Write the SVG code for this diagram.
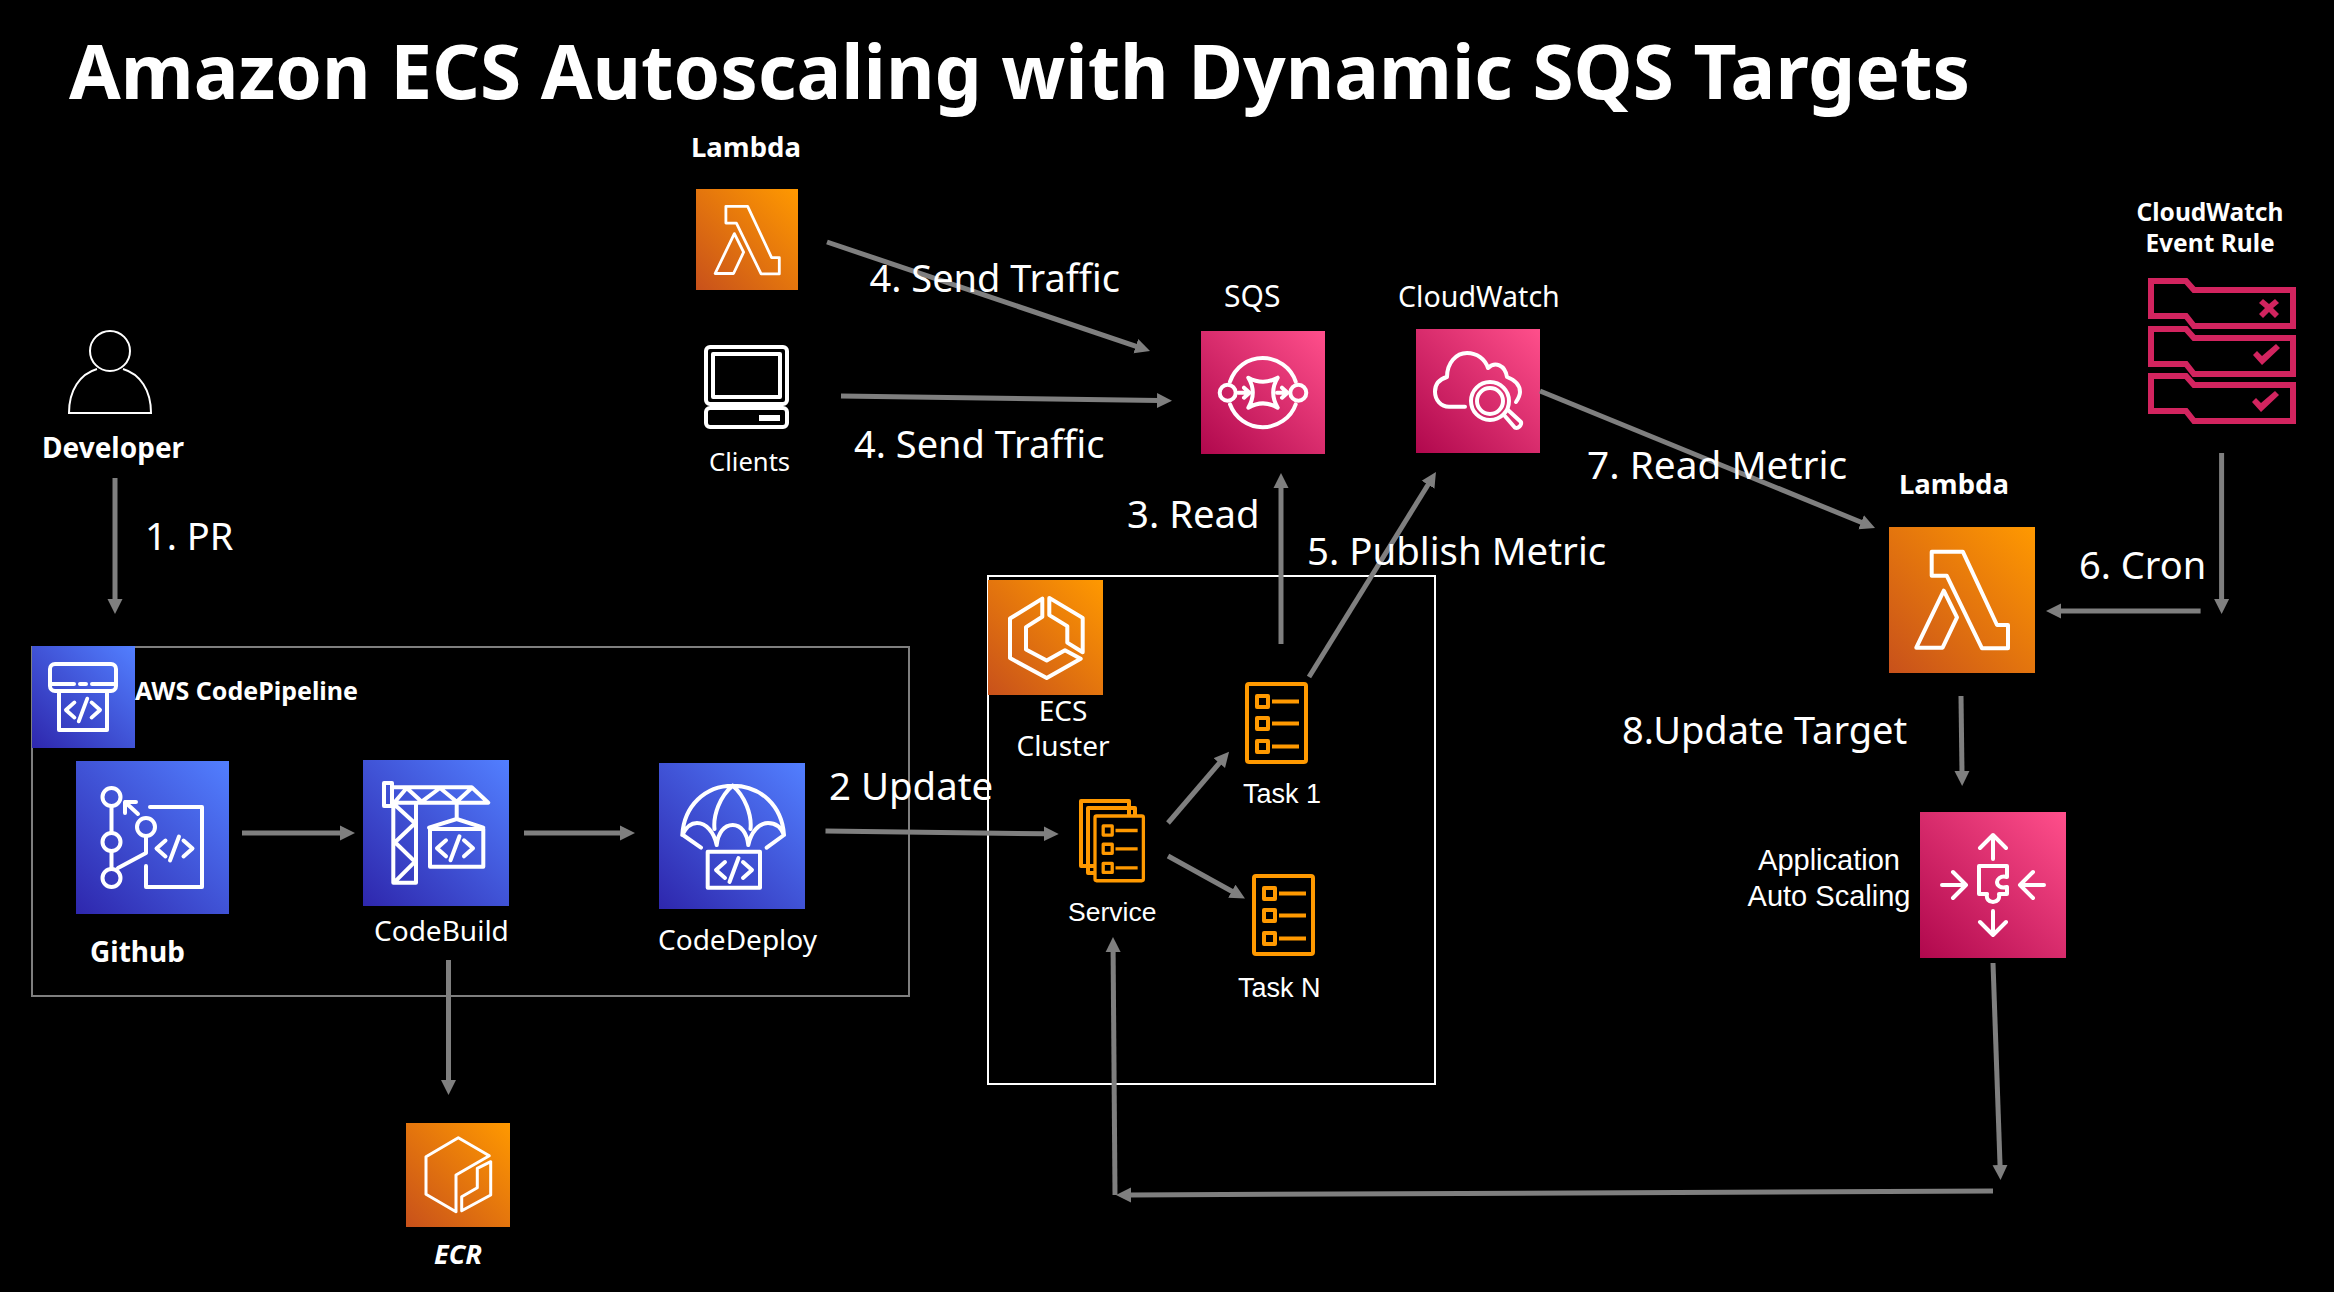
<svg xmlns="http://www.w3.org/2000/svg" xmlns:xlink="http://www.w3.org/1999/xlink" width="2334" height="1292" viewBox="0 0 2334 1292">
<style>
text{fill:#fff;font-family:"Noto Sans","Open Sans",sans-serif}
.b{font-weight:700}
.l{font-size:38px}
.s{font-size:28px}
.a{font-family:"Liberation Sans",Arial,sans-serif;font-size:26.500px}
.c{text-anchor:middle}
.w{fill:none;stroke:#fff;stroke-width:4;stroke-linejoin:round;stroke-linecap:round}
.o{fill:none;stroke:#f90;stroke-width:4;stroke-linejoin:round}
.p{fill:none;stroke:#d2245f;stroke-width:6}
.k{fill:#d2245f}
#connectors line{stroke:#7f7f7f;stroke-width:5;fill:none;marker-end:url(#ah)}
</style>
<defs>
<linearGradient id="gb" x1="0" y1="1" x2="1" y2="0"><stop offset="0" stop-color="#2E27AD"/><stop offset="1" stop-color="#527FFF"/></linearGradient>
<linearGradient id="go" x1="0" y1="1" x2="1" y2="0"><stop offset="0" stop-color="#C8511B"/><stop offset="1" stop-color="#FF9900"/></linearGradient>
<linearGradient id="gp" x1="0" y1="1" x2="1" y2="0"><stop offset="0" stop-color="#B0084D"/><stop offset="1" stop-color="#FF4F8B"/></linearGradient>
<marker id="ah" markerUnits="userSpaceOnUse" markerWidth="16" markerHeight="16" refX="2" refY="8" orient="auto"><path d="M0 0.500L15 8L0 15.500Z" fill="#7f7f7f"/></marker>
<g id="code" class="w"><path d="M-9 -8L-18 0L-9 8M9 -8L18 0L9 8M4.500 -12L-4.500 12"/></g>
<g id="lam" class="w"><path d="M42.700 24.700H73.800L108 98H119V121.300H93L57.700 48.700H42.700ZM54.800 63.700L68 90.300L53.600 120.700H27.300Z"/></g>
<g id="task" class="o"><rect x="0" y="0" width="59" height="78" rx="2"/><rect x="10" y="12" width="11" height="11"/><rect x="10" y="34" width="11" height="11"/><rect x="10" y="57" width="11" height="11"/><path d="M25 17.500H52M25 39.500H52M25 62.500H52"/></g>
<g id="rule" class="p"><path d="M3 3H38L46 12H145V48H46L38 38H3Z"/></g>
</defs>
<rect width="2334" height="1292" fill="#000"/>
<text id="title" class="b" x="69" y="99" font-size="74.800">Amazon ECS Autoscaling with Dynamic SQS Targets</text>
<g id="pipeline-box"><rect x="32" y="647" width="877" height="349" fill="none" stroke="#7f7f7f" stroke-width="2"/></g>
<g id="ecs-box"><rect x="988" y="576" width="447" height="508" fill="none" stroke="#fff" stroke-width="2"/></g>
<g id="developer"><circle cx="110" cy="351" r="20" fill="none" stroke="#fff" stroke-width="2"/><path d="M97 369C80 374 69 390 69 413H151C151 390 140 374 123 369" fill="none" stroke="#fff" stroke-width="2"/><text class="s b" x="42" y="458">Developer</text></g>
<g id="codepipeline"><rect x="32" y="646" width="103" height="102" fill="url(#gb)"/><rect x="50" y="664" width="66" height="27" rx="5" class="w"/><path class="w" d="M50 684H74M80 684H86M92 684H116M59 691V730H107V691"/><use xlink:href="#code" href="#code" transform="translate(83 710) scale(.95)"/><text class="b" x="135" y="700" font-size="25">AWS CodePipeline</text></g>
<g id="github"><rect x="76" y="761" width="153" height="153" fill="url(#gb)"/><g class="w"><circle cx="111.500" cy="797" r="9"/><circle cx="111.500" cy="842" r="9"/><circle cx="111.500" cy="878" r="9"/><circle cx="146" cy="827" r="9"/><path d="M111.500 806V833M111.500 851V869M118 868L146 853V836M138 814L125 802M125 813V802H136M150 807H202V887H146V866"/></g><use xlink:href="#code" href="#code" transform="translate(174.500 848.500)"/><text class="s b" x="90" y="962">Github</text></g>
<g id="codebuild"><rect x="363" y="760" width="146" height="146" fill="url(#gb)"/><path class="w" d="M384 783H392V806H384ZM392 787.300H471.700L488.300 802.700H392M395 801.700L406.700 788L421.700 801.700L440 788L456.700 801.700L471.700 788M393.300 803V882.700H416V803M395 805L415 823.300L395 842.300L415 861.700L395 881.700M456.700 802.700V819M429 827.700L456.700 819L483.300 827.700M430 829H483.300V866.700H430Z"/><use xlink:href="#code" href="#code" transform="translate(455 848.300)"/><text class="s" x="374" y="941">CodeBuild</text></g>
<g id="codedeploy"><rect x="659" y="763" width="146" height="146" fill="url(#gb)"/><path class="w" d="M682.300 835C684 806 705 785.700 732.700 785.700C761 785.700 782 806 784 835M682.300 835C686 827 691 823 697 823C706 823 714 832 716.700 845M716.700 845C718 833 724 825 732.700 825C741 825 747 833 748.300 845M748.300 845C751 832 759 823 768 823C775 823 781 827 784 835M732.700 785.700C720 796 713 815 714.500 829M732.700 785.700C745 796 752 815 750.500 829M683 835L701 847.700M784 835L766.700 847.700M707.700 851.700H760V887.700H707.700Z"/><use xlink:href="#code" href="#code" transform="translate(734 870)"/><text class="s" x="658" y="950">CodeDeploy</text></g>
<g id="ecr"><rect x="406" y="1123" width="104" height="104" fill="url(#go)"/><path class="w" transform="translate(406 1123)" style="stroke-width:3" d="M52.300 14.700L20 33.700V71.300L50 88.700V52L83.300 32.700ZM84.700 38.700V72L55.700 87.700V73.700L71.300 64.700V45.300Z"/><text font-size="27" class="b" x="434" y="1264" font-style="italic">ECR</text></g>
<g id="lambda-top"><rect x="696" y="189" width="102" height="101" fill="url(#go)"/><use xlink:href="#lam" href="#lam" transform="translate(696 189) scale(.7)"/><text font-size="27.500" class="b" x="691" y="157">Lambda</text></g>
<g id="clients"><rect x="706" y="347" width="81" height="57" rx="4" class="w"/><rect x="713" y="354" width="67" height="43" class="w"/><rect x="706" y="408" width="81" height="19" rx="4" class="w"/><rect x="759" y="415" width="21" height="6" fill="#fff"/><text font-size="25.600" x="709" y="471">Clients</text></g>
<g id="sqs"><rect x="1201" y="331" width="124" height="123" fill="url(#gp)"/><text font-size="30" x="1224" y="307">SQS</text><g class="w"><path d="M1230 381.700C1235 367 1248 358 1262.700 358C1277 358 1291 367 1295.700 381.700M1230 404.300C1235 418 1248 427.300 1262.700 427.300C1277 427.300 1291 418 1295.700 404.300M1248.300 377.700C1258 383 1268 383 1277.700 377.700C1272 387 1272 398 1277.700 407.700C1268 402 1258 402 1248.300 407.700C1254 398 1254 387 1248.300 377.700Z"/><circle cx="1227.700" cy="392.700" r="8"/><circle cx="1298.300" cy="392.700" r="8"/><path d="M1238.300 392.700H1249M1244 387.700L1249.500 392.700L1244 397.700M1277 392.700H1287M1282 387.700L1287.500 392.700L1282 397.700"/></g></g>
<g id="cloudwatch"><rect x="1416" y="329" width="124" height="124" fill="url(#gp)"/><text font-size="28.600" x="1398" y="307">CloudWatch</text><g class="w"><path d="M1465 406.700H1449C1441 406.700 1435 400 1435 391.700C1435 384 1440 379 1447 377C1447 363 1456 353 1467 353C1477 353 1485 359 1488 368C1495 361 1505 365 1507 377C1515 380 1520 385 1520 392C1520 396 1518 399 1516 402"/><circle cx="1490" cy="401" r="19"/><circle cx="1490" cy="401" r="13"/><path d="M1504 415L1515 427.700C1518 429 1522 425 1521 422L1508 410"/></g></g>
<g id="rule-group"><use xlink:href="#rule" href="#rule" transform="translate(2148 278)"/><use xlink:href="#rule" href="#rule" transform="translate(2148 326)"/><use xlink:href="#rule" href="#rule" transform="translate(2148 373)"/><path class="k" d="M2259 303L2263 299L2269 304L2275 299L2279 303L2273 308L2279 314L2275 318L2269 312L2263 318L2259 314L2265 308Z"/><path class="k" d="M2253 355L2257 351L2262 356L2276 344L2280 348L2262 365Z"/><path class="k" d="M2252 402L2256 398L2261 403L2275 391L2279 395L2261 412Z"/><text font-size="24.500" class="b c" x="2210" y="221">CloudWatch</text><text font-size="24.500" class="b c" x="2210" y="252">Event Rule</text></g>
<g id="lambda-main"><rect x="1889" y="527" width="146" height="146" fill="url(#go)"/><use xlink:href="#lam" href="#lam" transform="translate(1889 527)"/><text font-size="27.500" class="b" x="1899" y="494">Lambda</text></g>
<g id="autoscaling"><rect x="1920" y="812" width="146" height="146" fill="url(#gp)"/><path class="w" d="M1993 859V835M1980 848L1993 835L2006 848M1993 911V935M1980 922L1993 935L2006 922M1942 885H1966M1953 872L1966 885L1953 898M2044 885H2020M2033 872L2020 885L2033 898M1979 866H2007V877C2000 875 1997 880 1997 882C1997 885 2000 889 2007 887V894H1999C2000 899 1997 902 1993 902C1989 902 1986 899 1987 894H1979Z"/><text class="a c" style="font-size:29px" x="1829" y="870">Application</text><text class="a c" style="font-size:29px" x="1829" y="906">Auto Scaling</text></g>
<g id="ecs"><rect x="988" y="580" width="115" height="115" fill="url(#go)"/><path class="w" transform="translate(988 580)" d="M54.300 18.600L22 38.500V78.100L58.700 98.100L92.700 78.800L77 70.200L58.700 80.600L38 69.500V47.100L54.300 36.800ZM61.300 17.900L94.700 37.900V72.300L79.300 62.600V46.100L61.300 35.100Z"/><text font-size="28" class="c" x="1063" y="721">ECS</text><text font-size="28" class="c" x="1063" y="756">Cluster</text></g>
<g id="service"><path class="o" d="M1095 866H1081V801H1129V815M1095 873H1088V808H1135V815"/><use xlink:href="#task" href="#task" transform="translate(1095 816) scale(.82 .83)"/><text class="a" x="1068" y="921">Service</text></g>
<g id="task1"><use xlink:href="#task" href="#task" transform="translate(1247 684)"/><text class="a" style="font-size:27px" x="1243" y="803">Task 1</text></g>
<g id="taskn"><use xlink:href="#task" href="#task" transform="translate(1254 876)"/><text class="a" style="font-size:27px" x="1238" y="997">Task N</text></g>
<g id="connectors">
<line x1="115" y1="478" x2="115" y2="601"/>
<line x1="242" y1="833" x2="342" y2="833"/>
<line x1="524" y1="833" x2="622" y2="833"/>
<line x1="448.500" y1="960" x2="448.500" y2="1082"/>
<line x1="825.500" y1="831" x2="1045.700" y2="833.800"/>
<line x1="1168" y1="823" x2="1220.600" y2="761.600"/>
<line x1="1168" y1="856" x2="1233.600" y2="892.200"/>
<line x1="1281" y1="644" x2="1281" y2="486"/>
<line x1="1309" y1="677" x2="1429.100" y2="483"/>
<line x1="827" y1="242" x2="1137.700" y2="346.800"/>
<line x1="841" y1="396" x2="1159" y2="400.500"/>
<line x1="1540" y1="391" x2="1863" y2="523"/>
<line x1="2221.600" y1="453" x2="2221.600" y2="601"/>
<line x1="2200.600" y1="611" x2="2059" y2="611"/>
<line x1="1961" y1="696" x2="1962" y2="773"/>
<line x1="1993" y1="963" x2="2000.100" y2="1167"/>
<line x1="1993" y1="1191" x2="1129" y2="1195"/>
<line x1="1115" y1="1195" x2="1113.100" y2="950"/>
</g>
<g id="labels">
<text class="l" x="145" y="550">1. PR</text>
<text class="l" x="829" y="800" style="font-size:38.400px">2 Update</text>
<text class="l" x="1127" y="528" style="font-size:38.300px">3. Read</text>
<text class="l" x="869.500" y="292">4. Send Traffic</text>
<text class="l" x="854" y="458">4. Send Traffic</text>
<text class="l" x="1307" y="565" style="font-size:38.400px">5. Publish Metric</text>
<text class="l" x="2079" y="579">6. Cron</text>
<text class="l" x="1587" y="479" style="font-size:38.800px">7. Read Metric</text>
<text class="l" x="1622" y="744">8.Update Target</text>
</g>
</svg>
